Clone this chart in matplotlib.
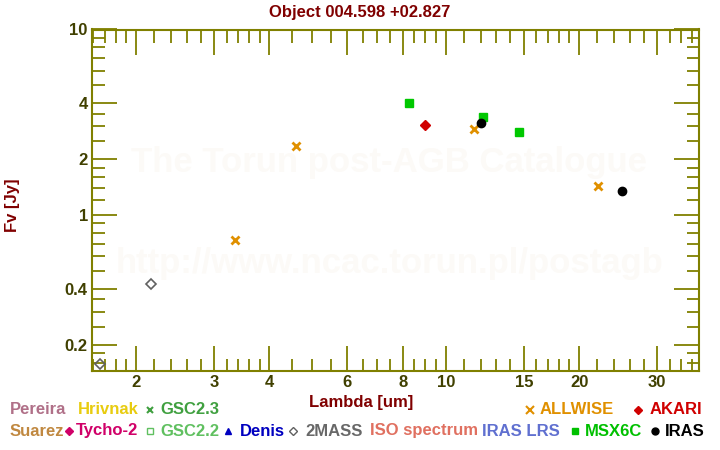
import numpy as np
import matplotlib as mpl
mpl.use('Agg')
import matplotlib.pyplot as plt
from matplotlib.lines import Line2D
from matplotlib.ticker import FixedLocator, NullFormatter

plt.rcParams["font.family"] = ["Liberation Sans", "DejaVu Sans"]
plt.rcParams["font.weight"] = "bold"

# Photometry (wavelength in um, flux in Jy)
twomass_x = [1.66, 2.16]
twomass_y = [0.157, 0.426]
allwise_x = [3.35, 4.6, 11.6, 22.1]
allwise_y = [0.731, 2.36, 2.90, 1.43]
akari_x = [9.0]
akari_y = [3.05]
msx_x = [8.28, 12.13, 14.65]
msx_y = [4.0, 3.36, 2.79]
iras_x = [12.0, 25.0]
iras_y = [3.12, 1.34]

xticks = [2, 3, 4, 6, 8, 10, 15, 20, 30]
xminor = [1.6, 1.7, 1.8, 1.9, 2.2, 2.4, 2.6, 2.8, 3.2, 3.4, 3.6, 3.8, 4.5, 5, 5.5,
          6.5, 7, 7.5, 8.5, 9, 9.5, 11, 12, 13, 14, 16, 17, 18, 19, 22, 24, 26, 28, 32, 34, 36]
yticks = [0.2, 0.4, 1, 2, 4, 10]
yminor = [0.16, 0.18, 0.25, 0.3, 0.35, 0.5, 0.6, 0.7, 0.8, 0.9, 1.2, 1.4, 1.6, 1.8,
          2.5, 3, 3.5, 5, 6, 7, 8, 9]

olive = '#808000'
ticklab = '#404000'
darkred = '#800000'

fig = plt.figure(figsize=(7.2, 4.5), dpi=100)
ax = fig.add_axes([92/720, 1-371/450, 607/720, 341.5/450])
ax.set_xscale('log')
ax.set_yscale('log')
ax.set_xlim(1.59, 37.3)
ax.set_ylim(0.144, 10)

# watermark
ax.text(0.49, 0.61, "The Torun post-AGB Catalogue", transform=ax.transAxes, ha='center', va='center',
        fontsize=25, color='#fcfaf7', zorder=0)
ax.text(0.49, 0.315, "http://www.ncac.torun.pl/postagb", transform=ax.transAxes, ha='center', va='center',
        fontsize=25, color='#fcfaf7', zorder=0)

ax.plot(twomass_x, twomass_y, 'D', mfc='none', mec='#606060', ms=5, mew=1.2, ls='none')
ax.plot(allwise_x, allwise_y, 'x', color='#e09000', ms=6, mew=2, ls='none')
ax.plot(akari_x, akari_y, 'D', color='#d00000', ms=5, ls='none')
ax.plot(msx_x, msx_y, 's', color='#00c800', ms=6, ls='none')
ax.plot(iras_x, iras_y, 'o', color='black', ms=6, ls='none')

for s in ax.spines.values():
    s.set_color(olive)
    s.set_linewidth(1.5)
ax.xaxis.set_major_locator(FixedLocator(xticks))
ax.xaxis.set_minor_locator(FixedLocator(xminor))
ax.yaxis.set_major_locator(FixedLocator(yticks))
ax.yaxis.set_minor_locator(FixedLocator(yminor))
ax.set_xticklabels([str(v) for v in xticks])
ax.set_yticklabels(['0.2', '0.4', '1', '2', '4', '10'])
ax.xaxis.set_minor_formatter(NullFormatter())
ax.yaxis.set_minor_formatter(NullFormatter())
ax.tick_params(which='both', direction='in', top=True, right=True, color=olive, width=1.3,
               labelcolor=ticklab, labelsize=12)
ax.tick_params(which='major', length=18, pad=3)
ax.tick_params(which='minor', length=9)

fig.text(0.5, 1-12/450, "Object 004.598 +02.827", ha='center', va='center', fontsize=12, color=darkred)
fig.text(361/720, 1-403/450, "Lambda [um]", ha='center', va='center', fontsize=12, color=darkred)
fig.text(12/720, 1-205/450, "Fv [Jy]", ha='center', va='center', fontsize=12, color=darkred, rotation=90)

# legend rows
r1 = 1 - 410/450
r2 = 1 - 431/450
legend_text = [
    (10, r1, "Pereira", '#b07088'), (78, r1, "Hrivnak", '#e8cc10'), (160, r1, "GSC2.3", '#40a040'),
    (540, r1, "ALLWISE", '#e09000'), (650, r1, "AKARI", '#d00000'),
    (10, r2, "Suarez", '#c08840'), (76, r2, "Tycho-2", '#d00068'), (160, r2, "GSC2.2", '#60c060'),
    (240, r2, "Denis", '#0000c0'), (305, r2, "2MASS", '#686868'), (370, r2, "ISO spectrum", '#e07060'),
    (482, r2, "IRAS LRS", '#6070d0'), (585, r2, "MSX6C", '#00c000'), (665, r2, "IRAS", 'black'),
]
for px, fy, label, c in legend_text:
    fig.text(px/720, fy, label, ha='left', va='center', fontsize=12, color=c)

legend_marks = [
    (150, r1, 'x', '#40a040', True, 5), (530, r1, 'x', '#e09000', True, 6), (638, r1, 'D', '#d00000', True, 4.5),
    (69, r2, 'D', '#d00068', True, 4.5), (150, r2, 's', '#60c060', False, 5), (228, r2, '^', '#0000c0', True, 5),
    (293, r2, 'D', '#606060', False, 4.5), (575, r2, 's', '#00c000', True, 5), (655, r2, 'o', 'black', True, 5),
]
for px, fy, m, c, filled, sz in legend_marks:
    fig.add_artist(Line2D([px/720], [fy], marker=m, ms=sz, mew=1.5 if m == 'x' else 1,
                          color=c, mfc=c if filled else 'none', mec=c, ls='none',
                          transform=fig.transFigure))

fig.savefig('out.png', dpi=100)
